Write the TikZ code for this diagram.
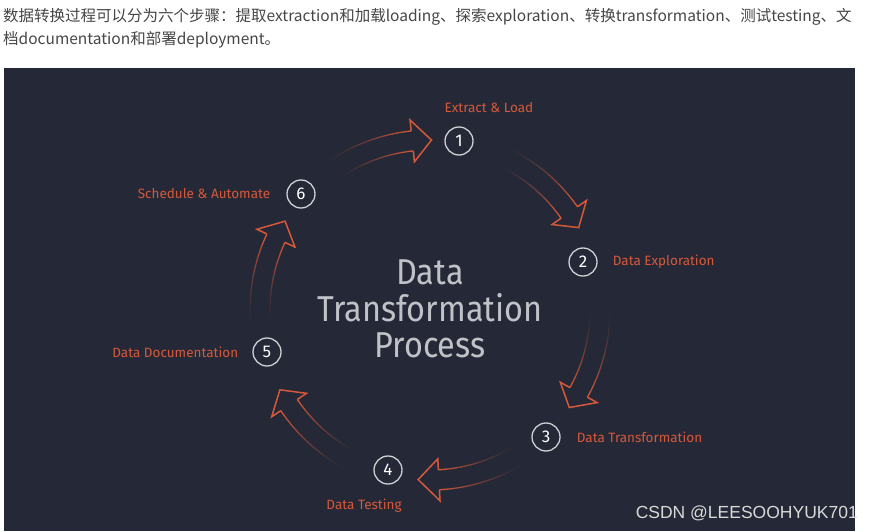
\documentclass[tikz,border=0pt]{standalone}
\usepackage{fontspec}
\setmainfont{Fira Sans}
\newfontfamily\cjk{Noto Sans CJK SC}
\newfontfamily\wmark{Liberation Sans}
\newfontfamily\titlefont[FakeStretch=0.9]{Fira Sans}
\usetikzlibrary{calc,positioning}
\definecolor{panel}{RGB}{37,41,55}
\definecolor{flame}{RGB}{214,88,58}
\definecolor{ring}{RGB}{205,207,212}
\definecolor{bodygray}{RGB}{70,70,70}

\begin{document}
\begin{tikzpicture}[x=1pt, y=1pt,
  stepnum/.style={circle, draw=ring, line width=1.3pt, minimum size=28pt, inner sep=0pt, text=white, font=\fontsize{17}{17}\selectfont},
  steptext/.style={text=flame, font=\fontsize{13.5}{14}\selectfont, inner sep=0pt},
  arrowedge/.style={draw=flame, line width=1.3pt},
  arrowhead/.style={draw=flame, line width=1.5pt, line join=miter}]
\useasboundingbox (0,0) rectangle (873,531);
\fill[white] (0,0) rectangle (873,531);
\fill[panel] (4,0) rectangle (855,463);

% caption above the panel
\node[anchor=west, inner sep=0pt, text=bodygray, font=\cjk\fontsize{15.5}{16}\selectfont] (cap1) at (3,514) {数据转换过程可以分为六个步骤：提取extraction和加载loading、探索exploration、转换transformation、测试testing、文};
\node[anchor=west, inner sep=0pt, text=bodygray, font=\cjk\fontsize{15.5}{16}\selectfont] (cap2) at (3,491) {档documentation和部署deployment。};

\coordinate (c) at (430,221);

% the six curved arrows, fading out towards the tail
\foreach \tail/\base/\tip in {126/96/89.5, 65/35/29, 0/-29/-35, -58/-87/-94, -117/-146/-152, 185/155/148.5}{
  \foreach \k in {0,...,23}{
    \pgfmathsetmacro{\aone}{\tail+(\base-\tail)*\k/24}
    \pgfmathsetmacro{\atwo}{\tail+(\base-\tail)*(\k+1)/24}
    \pgfmathsetmacro{\op}{((\k+1)/24)^1.5}
    \draw[arrowedge, draw opacity=\op] ($(c)+(\aone:180)$) arc[start angle=\aone, end angle=\atwo, radius=180];
    \draw[arrowedge, draw opacity=\op] ($(c)+(\aone:160)$) arc[start angle=\aone, end angle=\atwo, radius=160];
  }
  \draw[arrowhead] ($(c)+(\base:180)$) -- ($(c)+(\base:191)$) -- ($(c)+(\tip:170)$) -- ($(c)+(\base:149)$) -- ($(c)+(\base:160)$);
}

% numbered steps
\node[stepnum] (n1) at (459,390) {1};
\node[stepnum] (n2) at (583,269) {2};
\node[stepnum] (n3) at (546,94) {3};
\node[stepnum] (n4) at (388,61) {4};
\node[stepnum] (n5) at (267,179) {5};
\node[stepnum] (n6) at (301,337) {6};

\node[steptext] (l1) at (489,423) {Extract \& Load};
\node[steptext, right=15pt of n2] (l2) {Data Exploration};
\node[steptext, right=16pt of n3] (l3) {Data Transformation};
\node[steptext] (l4) at (364,25) {Data Testing};
\node[steptext, left=14pt of n5] (l5) {Data Documentation};
\node[steptext, left=16pt of n6] (l6) {Schedule \& Automate};

\node[align=center, text=ring!92!panel, font=\titlefont\fontsize{36}{36.5}\selectfont] (title) at (430,222) {Data\\Transformation\\Process};

\node[anchor=east, inner sep=0pt, text=white!85!black, font=\wmark\fontsize{17.5}{18}\selectfont] (mark) at (858,18) {CSDN @LEESOOHYUK701};
\end{tikzpicture}
\end{document}
